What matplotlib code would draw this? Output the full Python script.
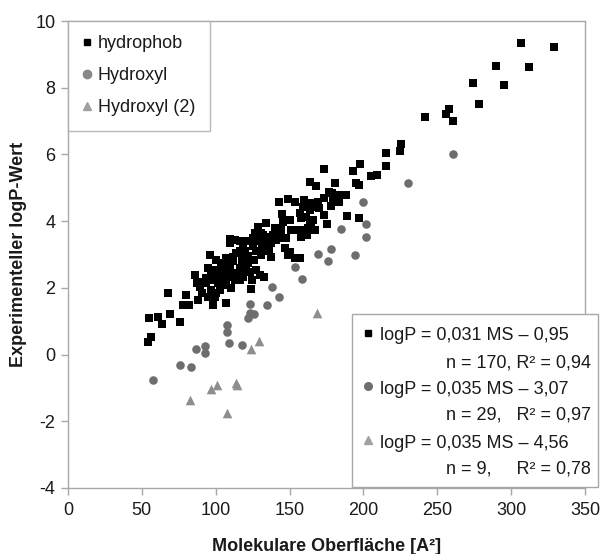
"""Experimental logP vs. molecular surface area, three compound classes."""

import matplotlib

matplotlib.use("Agg")
import matplotlib.pyplot as plt
from matplotlib.lines import Line2D
from matplotlib.patches import Rectangle

plt.rcParams["font.family"] = ["Liberation Sans", "DejaVu Sans"]
plt.rcParams["axes.unicode_minus"] = False

# hydrophob (black squares)
hydrophob_ms = [
    54.3, 55.9, 55.0, 60.6, 63.7, 68.9, 67.8, 75.7, 77.9, 80.2,
    81.9, 85.8, 88.0, 89.2, 91.0, 93.7, 96.4, 98.2, 97.0, 100.5,
    102.7, 104.9, 107.2, 110.6, 124.0, 124.8, 133.0, 100.5, 103.8, 107.2,
    109.5, 111.7, 114.0, 109.5, 114.0, 112.8, 101.6, 103.8, 109.5, 107.2,
    97.0, 98.2, 93.7, 91.4, 87.0, 99.3, 94.8, 104.9, 111.7, 118.4,
    116.2, 123.0, 129.7, 109.5, 109.5, 116.2, 118.5, 126.4, 119.6, 116.2,
    94.8, 99.3, 103.8, 121.8, 120.7, 107.2, 173.2, 163.5, 167.6, 181.0,
    142.8, 148.8, 153.4, 160.1, 195.0, 197.0, 176.6, 179.0, 183.8, 188.0,
    173.6, 164.6, 169.0, 183.8, 178.0, 163.5, 170.0, 173.6, 165.8, 189.0,
    197.0, 175.0, 159.0, 167.0, 162.0, 158.0, 157.0, 198.0, 193.0, 209.0,
    205.0, 215.0, 215.5, 224.5, 225.7, 242.0, 256.0, 258.0, 260.6, 274.0,
    278.0, 290.0, 295.0, 306.5, 312.0, 329.3, 179.3, 166.9, 161.3, 157.9,
    162.4, 155.6, 150.0, 145.5, 151.1, 134.3, 128.6, 132.0, 136.5, 141.0,
    143.2, 147.7, 137.6, 132.0, 126.4, 112.8, 159.0, 156.8, 163.5, 164.6,
    144.4, 130.9, 138.7, 141.0, 129.7, 125.2, 120.7, 125.2, 127.5, 130.9,
    118.5, 116.2, 137.6, 146.6, 150.0, 153.4, 148.8, 134.3, 127.5, 116.2,
    102.0, 106.0, 112.0, 118.0, 122.0, 126.0, 131.0, 136.0, 140.0, 145.0,
]
hydrophob_logp = [
    0.39, 0.52, 1.09, 1.14, 0.92, 1.22, 1.84, 0.97, 1.49, 1.79,
    1.49, 2.39, 1.64, 2.04, 1.84, 2.14, 2.99, 1.49, 2.44, 1.84,
    1.94, 2.24, 1.54, 1.99, 1.96, 2.24, 2.34, 2.84, 2.74, 2.89,
    2.64, 2.94, 3.04, 3.34, 2.44, 2.24, 2.14, 2.49, 2.34, 2.09,
    1.94, 2.24, 2.29, 2.19, 2.14, 1.74, 1.74, 2.39, 2.44, 2.34,
    2.49, 2.49, 2.39, 2.54, 3.46, 3.41, 3.31, 3.64, 3.09, 2.59,
    2.60, 2.55, 2.64, 2.74, 2.54, 2.44, 5.56, 5.18, 5.05, 5.15,
    4.58, 4.66, 4.58, 4.63, 5.13, 5.08, 4.88, 4.85, 4.78, 4.78,
    4.68, 4.53, 4.58, 4.58, 4.45, 4.33, 4.39, 4.18, 4.03, 4.16,
    4.10, 3.91, 3.73, 3.73, 3.58, 3.53, 2.89, 5.71, 5.51, 5.38,
    5.35, 5.66, 6.03, 6.10, 6.30, 7.11, 7.20, 7.37, 6.99, 8.15,
    7.52, 8.65, 8.07, 9.35, 8.63, 9.23, 4.63, 4.43, 4.13, 4.09,
    3.79, 3.73, 4.03, 3.98, 3.73, 3.94, 3.83, 3.58, 3.53, 3.68,
    3.49, 3.49, 3.34, 3.34, 3.39, 3.44, 4.43, 4.24, 4.03, 3.83,
    3.73, 3.64, 3.58, 3.43, 3.43, 3.49, 3.39, 3.24, 3.09, 2.99,
    2.94, 3.09, 2.93, 3.19, 3.08, 2.89, 2.99, 3.20, 2.54, 2.24,
    2.30, 2.70, 2.80, 2.80, 2.95, 2.85, 3.15, 3.10, 3.80, 4.20,
]

# Hydroxyl (dark grey circles)
hydroxyl_ms = [
    57.4, 75.7, 83.6, 86.5, 93.0, 93.0, 107.6, 107.6, 108.9, 117.8,
    123.4, 123.4, 121.8, 125.7, 134.9, 138.2, 142.8, 154.0, 158.6, 169.0,
    175.7, 178.0, 194.0, 184.7, 201.8, 201.8, 199.5, 230.0, 260.6,
]
hydroxyl_logp = [
    -0.76, -0.30, -0.38, 0.18, 0.26, 0.06, 0.89, 0.69, 0.36, 0.28,
    1.52, 1.26, 1.09, 1.22, 1.49, 2.04, 1.72, 2.64, 2.26, 3.02,
    2.81, 3.17, 2.98, 3.77, 3.53, 3.91, 4.57, 5.13, 6.02,
]

# Hydroxyl (2) (light grey triangles)
hydroxyl2_ms = [82.4, 97.0, 100.9, 107.9, 113.5, 114.6, 124.0, 129.3, 168.5]
hydroxyl2_logp = [-1.36, -1.04, -0.91, -1.76, -0.86, -0.92, 0.16, 0.42, 1.24]

series_labels = ["hydrophob", "Hydroxyl", "Hydroxyl (2)"]
fit_lines = [
    ("logP = 0,031 MS \u2013 0,95", "n = 170, R\u00b2 = 0,94"),
    ("logP = 0,035 MS \u2013 3,07", "n = 29,   R\u00b2 = 0,97"),
    ("logP = 0,035 MS \u2013 4,56", "n = 9,     R\u00b2 = 0,78"),
]

W, H = 603, 554
BLACK = "#000000"
DARK = "#6e6e6e"
LIGHT = "#8e8e8e"
FRAME = "#a8a8a8"
TEXT = "#1a1a1a"


def fx(px):
    return px / W


def fy(py):
    return 1 - py / H


fig = plt.figure(figsize=(W / 100, H / 100), dpi=100)
ax = fig.add_axes([fx(68), fy(488), fx(585) - fx(68), fy(21) - fy(488)])

ax.scatter(hydrophob_ms, hydrophob_logp, marker="s", s=32, color=BLACK,
           linewidths=0, zorder=3)
ax.scatter(hydroxyl_ms, hydroxyl_logp, marker="o", s=38, color=DARK,
           linewidths=0, zorder=3)
ax.scatter(hydroxyl2_ms, hydroxyl2_logp, marker="^", s=48, color=LIGHT,
           linewidths=0, zorder=3)

ax.set_xlim(0, 350)
ax.set_ylim(-4, 10)
ax.set_xticks(range(0, 351, 50))
ax.set_yticks(range(-4, 11, 2))
ax.set_yticklabels([str(v) for v in range(-4, 11, 2)])
ax.tick_params(direction="out", length=5, width=1, color=FRAME,
               labelsize=13, labelcolor=TEXT)
ax.tick_params(axis="x", pad=5)
ax.tick_params(axis="y", pad=4)
for sp in ax.spines.values():
    sp.set_color(FRAME)
    sp.set_linewidth(1)

ax.set_xlabel("Molekulare Oberfl\u00e4che [A\u00b2]", fontsize=13,
              fontweight="bold", color=TEXT, labelpad=14)
ax.set_ylabel("Experimenteller logP-Wert", fontsize=13,
              fontweight="bold", color=TEXT, labelpad=6)

handles = [
    Line2D([], [], marker="s", color=BLACK, linestyle="", markersize=5),
    Line2D([], [], marker="o", color="#888888", linestyle="", markersize=6),
    Line2D([], [], marker="^", color="#a0a0a0", linestyle="", markersize=6),
]
leg = ax.legend(handles, series_labels, loc="upper left",
                bbox_to_anchor=(0, 1), borderaxespad=0, fontsize=13,
                frameon=True, fancybox=False, edgecolor=FRAME,
                handlelength=0.5, handletextpad=0.35, labelspacing=0.82,
                borderpad=0.8)
leg.get_frame().set_linewidth(1)
for t in leg.get_texts():
    t.set_color(TEXT)

# regression box at lower right
box = Rectangle((fx(352), fy(487)), fx(598) - fx(352), fy(314) - fy(487),
                transform=fig.transFigure, facecolor="white", edgecolor=FRAME,
                linewidth=1, zorder=5, clip_on=False)
ax.add_patch(box)

box_markers = [("s", BLACK, 4.5), ("o", DARK, 5.5), ("^", "#a0a0a0", 6)]
row_y = [336, 389, 443]
for (eq, stats), (mk, col, ms), py in zip(fit_lines, box_markers, row_y):
    ax.plot([fx(368)], [fy(py - 3)], marker=mk, color=col, markersize=ms,
            linestyle="", transform=fig.transFigure, clip_on=False, zorder=6)
    fig.text(fx(380), fy(py), eq, fontsize=13, color=TEXT, ha="left",
             va="center", zorder=6)
    fig.text(fx(591), fy(py + 26.5), stats, fontsize=13, color=TEXT,
             ha="right", va="center", zorder=6)

fig.savefig("out.png", dpi=100)
